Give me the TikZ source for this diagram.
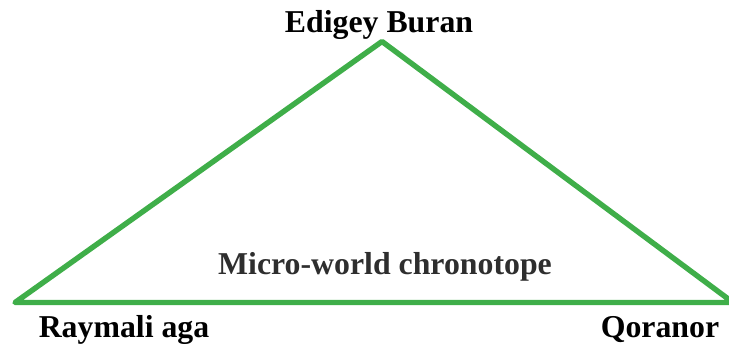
\documentclass[tikz,border=0pt]{standalone}
\usepackage{fontspec}
\setmainfont{Liberation Serif}
\definecolor{trigreen}{HTML}{3FAE49}
\definecolor{midgray}{HTML}{2E2E2E}
\begin{document}
\begin{tikzpicture}[x=1pt,y=-1pt,
  lbl/.style={font=\fontsize{31.8}{36}\selectfont\bfseries, anchor=base, inner sep=0pt},
  edge/.style={draw=trigreen, line width=5.4pt, line join=round, line cap=round}]
\useasboundingbox (0,0) rectangle (729,347);
\coordinate (top) at (382,41.5);
\coordinate (left) at (15,302.5);
\coordinate (right) at (733,302.5);
\draw[edge] (left) -- (top) -- (right) -- cycle;
\node[lbl] (t) at (379,33) {Edigey Buran};
\node[lbl, text=midgray] (m) at (385,275) {Micro-world chronotope};
\node[lbl] (l) at (124,338) {Raymali aga};
\node[lbl] (r) at (660,338) {Qoranor};
\end{tikzpicture}
\end{document}
